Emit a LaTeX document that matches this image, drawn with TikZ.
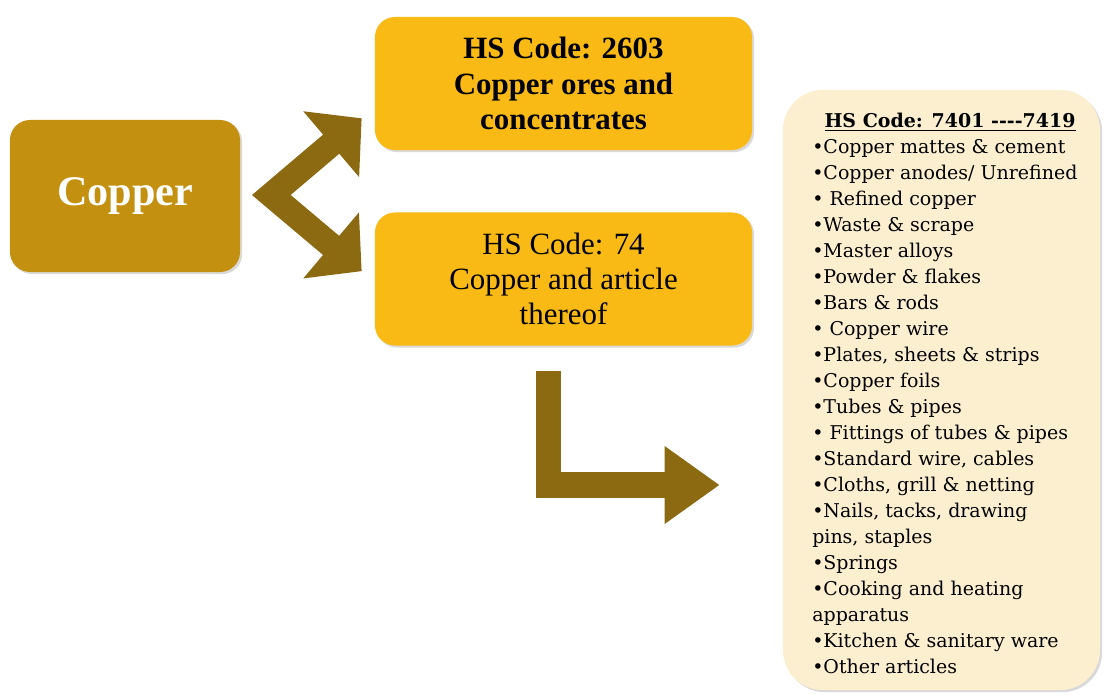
\documentclass[tikz,border=0pt]{standalone}
\usepackage{fontspec}
\setmainfont{Liberation Serif}
\newfontfamily\listfont{DejaVu Serif}
\usepackage{xcolor}
\usetikzlibrary{arrows.meta,calc,shadows}
\definecolor{copperbox}{RGB}{196,144,16}
\definecolor{goldbox}{RGB}{250,186,22}
\definecolor{creambox}{RGB}{252,239,208}
\definecolor{arrowgold}{RGB}{140,106,18}

\begin{document}
\begin{tikzpicture}[x = 0.025cm, y = -0.025cm,
    box/.style = {rounded corners = 0.5cm, inner sep = 0pt, align = center,
        drop shadow = {opacity = 0.3, shadow xshift = 1.5pt, shadow yshift = -1.5pt}},
    coppernode/.style = {box, fill = copperbox, minimum width = 5.75cm, minimum height = 3.8cm,
        text = white, font = \fontsize{30}{36}\selectfont\bfseries},
    codenode/.style = {box, fill = goldbox, minimum width = 9.425cm, minimum height = 3.325cm,
        font = \fontsize{22}{25}\selectfont},
    listnode/.style = {box, fill = creambox, rounded corners = 1cm,
        minimum width = 7.925cm, minimum height = 15cm},
    goldarrow/.style = {draw = arrowgold, line width = 0.625cm, line join = miter},
    listtext/.style = {font = \listfont\fontsize{13.5}{18.5}\selectfont}]
    \useasboundingbox (0,0) rectangle (1104,695);

    \node[coppernode] (copper) at (125,196) {Copper};
    \node[codenode, font = \fontsize{22}{25}\selectfont\bfseries] (ores) at (563.5,83.5)
        {HS Code: 2603\\Copper ores and\\concentrates};
    \node[codenode] (article) at (563.5,279)
        {HS Code: 74\\Copper and article\\thereof};
    \node[listnode] (hslist) at (941.5,390) {};

    \node[listtext, font = \listfont\fontsize{13.5}{18.5}\selectfont\bfseries] (hshead) at (950,122)
        {\underline{HS Code: 7401 {-}{-}{-}{-}7419}};
    \node[listtext, anchor = north west, align = left, inner sep = 0pt] (hsitems) at (812,139)
        {\textbullet Copper mattes \& cement\\
         \textbullet Copper anodes/ Unrefined\\
         \textbullet{} Refined copper\\
         \textbullet Waste \& scrape\\
         \textbullet Master alloys\\
         \textbullet Powder \& flakes\\
         \textbullet Bars \& rods\\
         \textbullet{} Copper wire\\
         \textbullet Plates, sheets \& strips\\
         \textbullet Copper foils\\
         \textbullet Tubes \& pipes\\
         \textbullet{} Fittings of tubes \& pipes\\
         \textbullet Standard wire, cables\\
         \textbullet Cloths, grill \& netting\\
         \textbullet Nails, tacks, drawing\\
         pins, staples\\
         \textbullet Springs\\
         \textbullet Cooking and heating\\
         apparatus\\
         \textbullet Kitchen \& sanitary ware\\
         \textbullet Other articles};

    % fork out of the copper box
    \coordinate (fork) at ($(copper.east)+(31,-1)$);
    \coordinate (oretip) at ($(ores.south west)+(-13,-32)$);
    \coordinate (articletip) at ($(article.north west)+(-13,59)$);
    \draw[goldarrow, {Triangle[length = 1cm, width = 2.1cm]}-{Triangle[length = 1cm, width = 2.1cm]}]
        (oretip) -- (fork) -- (articletip);

    % bent arrow to the list
    \coordinate (bendstart) at ($(article.south)+(-15.5,25)$);
    \coordinate (listtip) at ($(hslist.west)+(-63,95)$);
    \draw[goldarrow, -{Triangle[length = 1.375cm, width = 1.85cm]}] (bendstart) |- (listtip);
\end{tikzpicture}
\end{document}
